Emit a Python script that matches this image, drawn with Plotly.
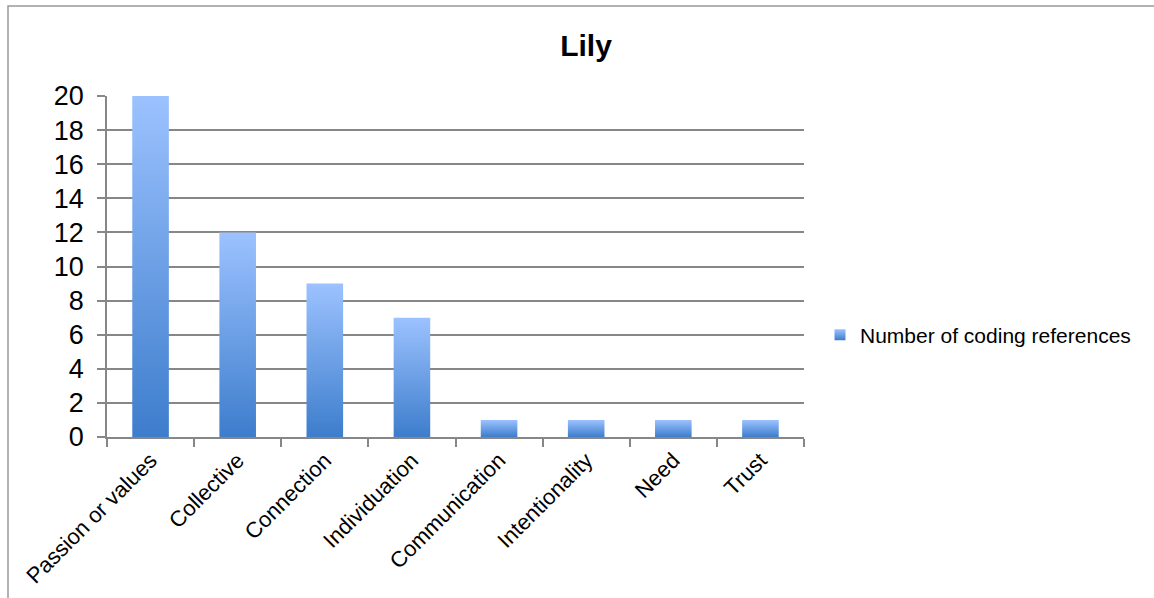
import plotly.graph_objects as go

# Coding-reference counts per theme
categories = ["Passion or values", "Collective", "Connection", "Individuation",
              "Communication", "Intentionality", "Need", "Trust"]
counts = [20, 12, 9, 7, 1, 1, 1, 1]
series_name = "Number of coding references"
title_text = "Lily"
y_ticks = list(range(0, 21, 2))

LIGHT = "#9cc2ff"
DARK = "#3d7dcc"
GRID = "#878787"
FONT = "Liberation Sans, Arial, sans-serif"

W, H = 1154, 598
M = dict(l=107, r=350, t=96, b=161)
BAR_W = 0.42

fig = go.Figure()

# Each bar is a filled polygon so that it can carry its own vertical gradient
for i, (cat, v) in enumerate(zip(categories, counts)):
    x0, x1 = i - BAR_W / 2, i + BAR_W / 2
    fig.add_trace(go.Scatter(
        x=[x0, x1, x1, x0, x0], y=[0, 0, v, v, 0],
        mode="lines", fill="toself", line=dict(width=0),
        fillgradient=dict(type="vertical",
                          colorscale=[[0, DARK], [1, LIGHT]]),
        hoverinfo="text", hovertext=f"{cat}: {v}",
        showlegend=False,
    ))

# Legend entry for the series
fig.add_trace(go.Scatter(
    x=[None], y=[None], mode="markers", name=series_name,
    marker=dict(symbol="square", size=11, color=LIGHT,
                gradient=dict(type="vertical", color=DARK)),
))

pw = W - M["l"] - M["r"]
ph = H - M["t"] - M["b"]

fig.update_layout(
    width=W, height=H, margin=M,
    plot_bgcolor="white", paper_bgcolor="white",
    font=dict(family=FONT, color="black"),
    title=dict(text=f"<b>{title_text}</b>", font=dict(size=30, family=FONT),
               x=586 / W, xref="container", xanchor="center",
               y=1 - 45 / H, yref="container", yanchor="middle"),
    xaxis=dict(
        range=[-0.5, len(categories) - 0.5], automargin=False,
        tickmode="array", tickvals=list(range(len(categories))),
        ticktext=categories, tickangle=-45,
        tickfont=dict(size=22, family=FONT),
        ticks="", showgrid=False, zeroline=False,
        showline=True, linecolor=GRID, linewidth=1.6,
        minor=dict(tickmode="array",
                   tickvals=[k - 0.5 for k in range(len(categories) + 1)],
                   ticks="outside", ticklen=8, tickcolor=GRID, tickwidth=1.6,
                   showgrid=False),
    ),
    yaxis=dict(
        range=[0, 20], tickmode="array", tickvals=y_ticks, automargin=False,
        tickfont=dict(size=27, family=FONT),
        ticks="outside", ticklen=8, tickcolor=GRID, tickwidth=1.6,
        ticklabelstandoff=8,
        showgrid=True, gridcolor=GRID, gridwidth=1.6,
        zeroline=False, showline=True, linecolor=GRID, linewidth=1.6,
    ),
    legend=dict(x=(820 - M["l"]) / pw, y=(H - M["b"] - 335) / ph,
                xanchor="left", yanchor="middle",
                font=dict(size=21, family=FONT), itemwidth=30,
                bgcolor="rgba(0,0,0,0)"),
    shapes=[dict(type="rect", xref="paper", yref="paper",
                 x0=(8 - M["l"]) / pw, x1=(W + 20 - M["l"]) / pw,
                 y0=-(M["b"] + 20) / ph, y1=(H - M["b"] - 6) / ph,
                 line=dict(color="#999999", width=1.5), layer="below")],
)

fig.write_html("out.html")
